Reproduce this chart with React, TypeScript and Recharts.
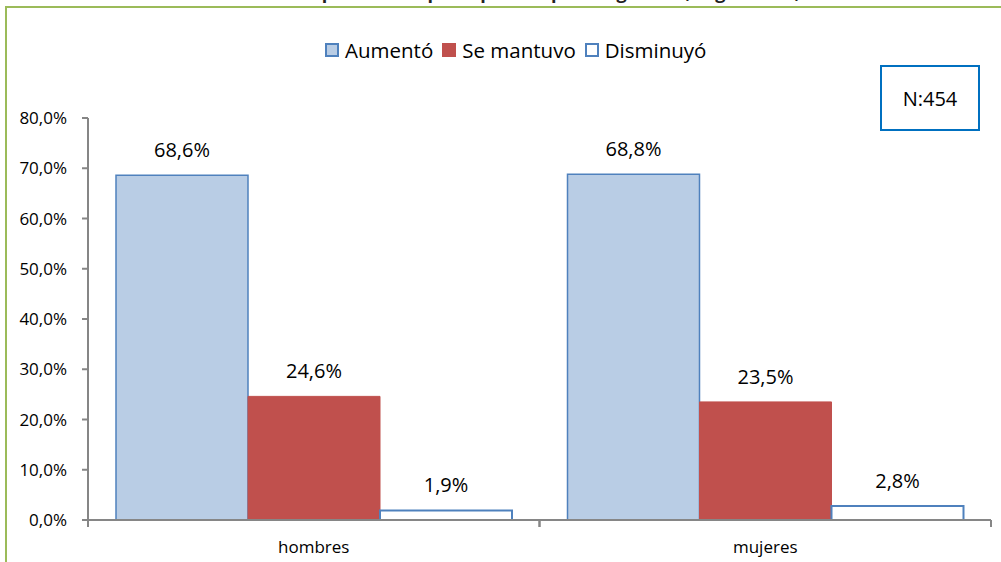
import { Bar, BarChart, LabelList, Legend, XAxis, YAxis } from "recharts";

const categories = ["hombres", "mujeres"];
const aumento = [68.6, 68.8];
const seMantuvo = [24.6, 23.5];
const disminuyo = [1.9, 2.8];
const yTicks = [0, 10, 20, 30, 40, 50, 60, 70, 80];

const series = [
  { key: "aumento", name: "Aumentó", fill: "#B9CDE5", stroke: "#4F81BD", sw: 1.5 },
  { key: "seMantuvo", name: "Se mantuvo", fill: "#C0504D", stroke: "#C0504D", sw: 1 },
  { key: "disminuyo", name: "Disminuyó", fill: "#FFFFFF", stroke: "#4F81BD", sw: 2 },
];

const data = categories.map((cat, i) => ({
  cat,
  aumento: aumento[i],
  seMantuvo: seMantuvo[i],
  disminuyo: disminuyo[i],
}));

const FONT = "'Open Sans', 'Liberation Sans', sans-serif";
const AXIS = "#868686";

const pct = (v: number) => `${v.toFixed(1).replace(".", ",")}%`;

// ticks sit on the category boundaries, label in the middle
function XTick(props: any) {
  const { x, y, payload } = props;
  const half = payload?.offset ?? 0;
  return (
    <g>
      <line x1={x - half} x2={x - half} y1={y} y2={y + 7} stroke={AXIS} strokeWidth={2} />
      <line x1={x + half} x2={x + half} y1={y} y2={y + 7} stroke={AXIS} strokeWidth={2} />
      <text x={x} y={y + 33} textAnchor="middle" fontSize={17} fontFamily={FONT} fill="#000">
        {payload.value}
      </text>
    </g>
  );
}

function LegendBox() {
  return (
    <div style={{ display: "flex", alignItems: "center", fontFamily: FONT, fontSize: 20.5, color: "#000", lineHeight: "28px" }}>
      {series.map((s) => (
        <div key={s.key} style={{ display: "flex", alignItems: "center", marginRight: 9 }}>
          <span
            style={{
              display: "inline-block",
              width: 10,
              height: 10,
              background: s.fill,
              border: `2px solid ${s.stroke}`,
              marginRight: 6,
            }}
          />
          <span>{s.name}</span>
        </div>
      ))}
    </div>
  );
}

export default function App() {
  return (
    <div style={{ position: "fixed", left: 0, top: 0, width: 1001, height: 562, overflow: "hidden", background: "#fff" }}>
      <div
        style={{
          position: "absolute",
          left: 0,
          width: 1001,
          top: -17,
          textAlign: "center",
          fontFamily: FONT,
          fontWeight: 700,
          fontSize: 18,
          lineHeight: "18px",
          color: "#222",
          whiteSpace: "nowrap",
          paddingRight: 10,
        }}
      >
        Gráfico N° 5: Percepción del espacio público para seguridad, según sexo, 2010
      </div>
      <div
        style={{
          position: "absolute",
          left: 5,
          top: 6,
          width: 1100,
          height: 700,
          border: "2px solid #9BBB59",
        }}
      />
      <div style={{ position: "absolute", left: 0, top: 0 }}>
        <BarChart
          width={1001}
          height={562}
          data={data}
          margin={{ top: 118, right: 10, bottom: 12, left: 8 }}
          barCategoryGap={28}
          barGap={0}
        >
          <XAxis
            dataKey="cat"
            height={30}
            axisLine={{ stroke: AXIS, strokeWidth: 2 }}
            tickLine={false}
            tickSize={0}
            tickMargin={0}
            tick={<XTick />}
            interval={0}
          />
          <YAxis
            width={80}
            domain={[0, 80]}
            ticks={yTicks}
            tickFormatter={pct}
            axisLine={{ stroke: AXIS, strokeWidth: 2 }}
            tickLine={{ stroke: AXIS, strokeWidth: 2 }}
            tickSize={6}
            tickMargin={15}
            tick={{ fontSize: 17, fontFamily: FONT, fill: "#000" }}
            interval={0}
          />
          <Legend
            layout="horizontal"
            verticalAlign="middle"
            align="center"
            wrapperStyle={{ top: 36, left: 325, width: 430, height: 28 }}
            content={() => <LegendBox />}
          />
          {series.map((s) => (
            <Bar
              key={s.key}
              dataKey={s.key}
              name={s.name}
              fill={s.fill}
              stroke={s.stroke}
              strokeWidth={s.sw}
              isAnimationActive={false}
            >
              <LabelList
                dataKey={s.key}
                position="top"
                offset={18}
                formatter={(v: any) => pct(Number(v))}
                style={{ fontSize: 20, fontFamily: FONT, fill: "#000" }}
              />
            </Bar>
          ))}
        </BarChart>
      </div>
      <div
        style={{
          position: "absolute",
          left: 880,
          top: 65,
          width: 96,
          height: 62,
          border: "2px solid #0070C0",
          display: "flex",
          alignItems: "center",
          justifyContent: "center",
          fontFamily: FONT,
          fontSize: 20,
          color: "#000",
          background: "#fff",
        }}
      >
        N:454
      </div>
    </div>
  );
}
